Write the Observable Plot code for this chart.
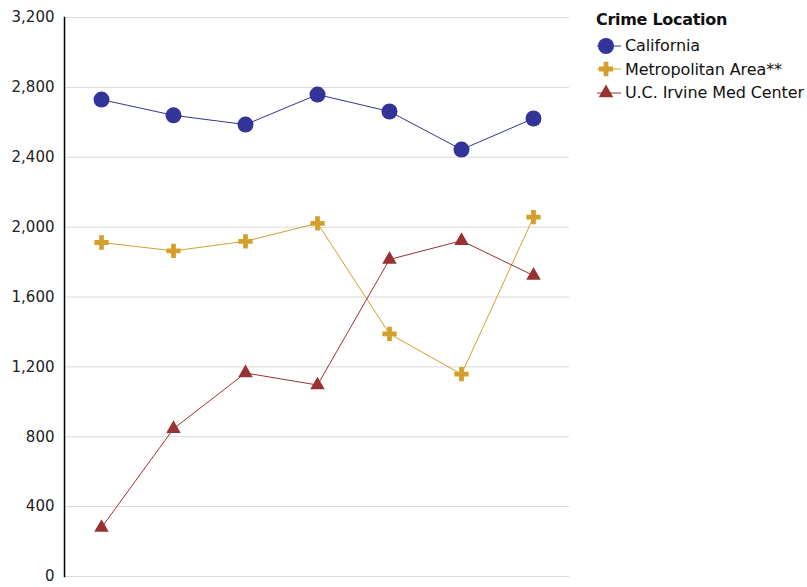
<!DOCTYPE html>
<html>
<head>
<meta charset="utf-8">
<script src="https://cdn.jsdelivr.net/npm/d3@7"></script>
<script src="https://cdn.jsdelivr.net/npm/@observablehq/plot@0.6"></script>
<style>
  html, body { margin: 0; padding: 0; background: #fff; }
  body { width: 807px; height: 587px; position: relative; overflow: hidden; font-family: "DejaVu Sans", Verdana, sans-serif; }
  #chart { position: absolute; left: 0; top: 0; }
  #legend { position: absolute; left: 596px; top: 10px; color: #111; }
  #legend .title { font-weight: bold; font-size: 16px; margin-bottom: 5px; font-family: "DejaVu Sans", sans-serif; letter-spacing: -0.3px; }
  #legend .item { display: flex; align-items: center; height: 23.5px; font-size: 16px; letter-spacing: -0.1px; }
  #legend svg { margin-right: 3px; }
</style>
</head>
<body>
<div id="chart"></div>
<div id="legend"></div>
<script>
// Data
const categories = ["1", "2", "3", "4", "5", "6", "7"];
const seriesNames = ["California", "Metropolitan Area**", "U.C. Irvine Med Center"];
const california = [2730, 2640, 2587, 2759, 2662, 2444, 2622];
const metropolitan = [1912, 1864, 1919, 2022, 1389, 1158, 2057];
const ucIrvine = [280, 846, 1165, 1096, 1815, 1922, 1723];
const yTicks = [0, 400, 800, 1200, 1600, 2000, 2400, 2800, 3200];

const colors = ["#333399", "#d49f2c", "#993333"];
const symbols = ["circle", "cross", "triangle"];
const radii = [8, 6, 5.4];

const allValues = [california, metropolitan, ucIrvine];
const data = [];
seriesNames.forEach((s, i) => {
  categories.forEach((c, j) => data.push({series: s, cat: c, value: allValues[i][j]}));
});

const marks = [
  Plot.gridY(yTicks, {stroke: "#d9d9d9", strokeOpacity: 1, strokeWidth: 1}),
  Plot.axisY(yTicks, {tickSize: 0, tickPadding: 10, tickFormat: d3.format(","), fontSize: 15, fill: "#222", label: null}),
  Plot.frame({anchor: "left", stroke: "#000", strokeWidth: 1.5})
];
seriesNames.forEach((s, i) => {
  const d = data.filter(r => r.series === s);
  marks.push(Plot.lineY(d, {x: "cat", y: "value", stroke: colors[i], strokeWidth: 1}));
  marks.push(Plot.dot(d, {x: "cat", y: "value", fill: colors[i], stroke: "none", symbol: symbols[i], r: radii[i]}));
});

const chart = Plot.plot({
  width: 590,
  height: 587,
  marginLeft: 64,
  marginRight: 21,
  marginTop: 17,
  marginBottom: 11,
  style: {fontFamily: "DejaVu Sans, Verdana, sans-serif", background: "#fff"},
  x: {type: "point", domain: categories, padding: 0.49, axis: null},
  y: {domain: [0, 3200], axis: null},
  marks
});
document.getElementById("chart").appendChild(chart);

// Legend
const legend = d3.select("#legend");
legend.append("div").attr("class", "title").text("Crime Location");
const symMap = {circle: d3.symbolCircle, cross: d3.symbolCross, triangle: d3.symbolTriangle};
seriesNames.forEach((s, i) => {
  const item = legend.append("div").attr("class", "item");
  const svg = item.append("svg").attr("width", 26).attr("height", 20);
  svg.append("line").attr("x1", 1).attr("x2", 25).attr("y1", 10).attr("y2", 10)
    .attr("stroke", colors[i]).attr("stroke-width", 1);
  svg.append("path").attr("transform", "translate(10,10)")
    .attr("d", d3.symbol(symMap[symbols[i]], Math.PI * radii[i] * radii[i])())
    .attr("fill", colors[i]);
  item.append("span").text(s);
});
</script>
</body>
</html>
